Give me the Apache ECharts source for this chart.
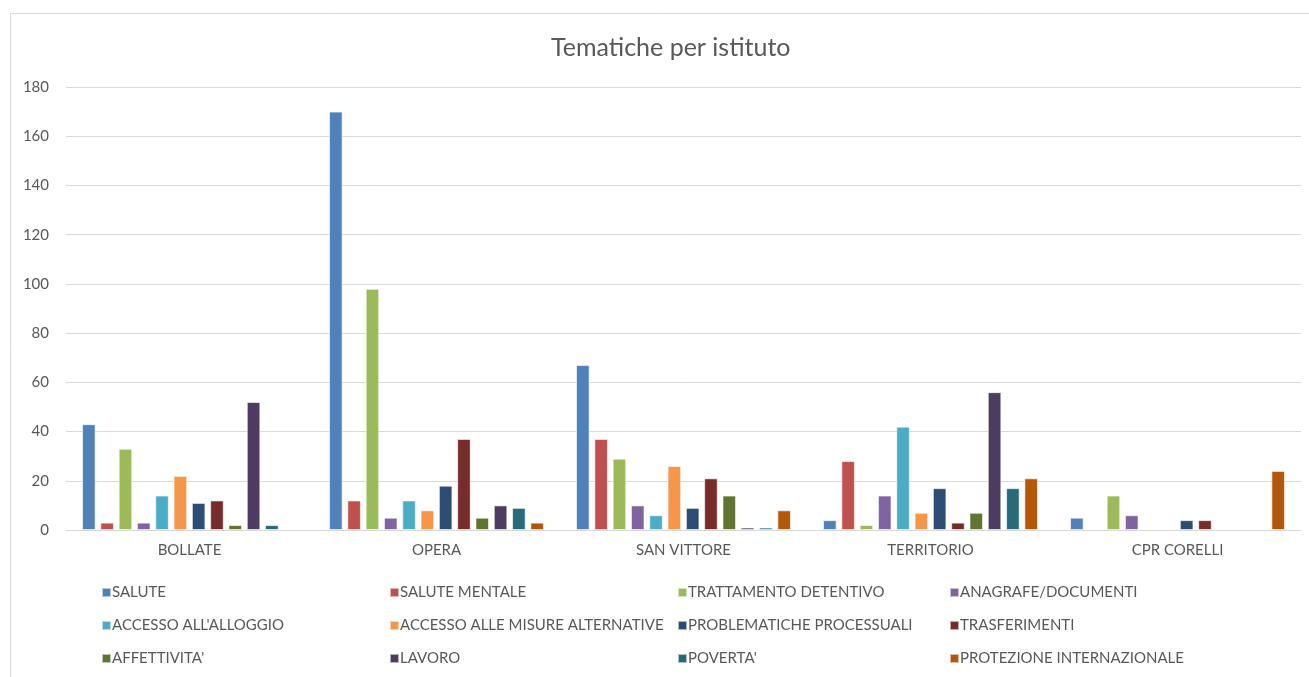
<!DOCTYPE html>
<html>
<head>
<meta charset="utf-8">
<script src="https://cdn.jsdelivr.net/npm/echarts@6/dist/echarts.min.js"></script>
<style>
html, body { margin: 0; padding: 0; background: #fff; }
#chart { width: 1309px; height: 677px; }
</style>
</head>
<body>
<div id="chart"></div>
<script>
const istituti = ['BOLLATE', 'OPERA', 'SAN VITTORE', 'TERRITORIO', 'CPR CORELLI'];
const tematiche = [
    'SALUTE', 'SALUTE MENTALE', 'TRATTAMENTO DETENTIVO', 'ANAGRAFE/DOCUMENTI',
    "ACCESSO ALL'ALLOGGIO", 'ACCESSO ALLE MISURE ALTERNATIVE', 'PROBLEMATICHE PROCESSUALI', 'TRASFERIMENTI',
    "AFFETTIVITA'", 'LAVORO', "POVERTA'", 'PROTEZIONE INTERNAZIONALE'
];
const colori = ['#4F81BD', '#C0504D', '#9BBB59', '#8064A2', '#4BACC6', '#F79646',
    '#2C4D75', '#772C2A', '#5F7530', '#4D3B62', '#276A7C', '#B65708'];

// one array per tematica, values for BOLLATE, OPERA, SAN VITTORE, TERRITORIO, CPR CORELLI
const salute = [43, 170, 67, 4, 5];
const saluteMentale = [3, 12, 37, 28, null];
const trattamento = [33, 98, 29, 2, 14];
const anagrafe = [3, 5, 10, 14, 6];
const alloggio = [14, 12, 6, 42, null];
const misure = [22, 8, 26, 7, null];
const processuali = [11, 18, 9, 17, 4];
const trasferimenti = [12, 37, 21, 3, 4];
const affettivita = [2, 5, 14, 7, null];
const lavoro = [52, 10, 1, 56, null];
const poverta = [2, 9, 1, 17, null];
const protezione = [null, 3, 8, 21, 24];

const valori = [salute, saluteMentale, trattamento, anagrafe, alloggio, misure,
    processuali, trasferimenti, affettivita, lavoro, poverta, protezione];

const yMax = 180;
const yStep = 20;

const chart = echarts.init(document.getElementById('chart'));
const font = 'Lato, "Open Sans", sans-serif';
const grigio = '#595959';

// legend laid out in 4 columns of 3 rows, like the original
const colLeft = [96, 384, 672, 944];
const legends = colLeft.map((left, c) => ({
    orient: 'vertical',
    left: left,
    top: 580,
    itemGap: 18,
    itemWidth: 9,
    itemHeight: 9,
    icon: 'rect',
    textStyle: { color: grigio, fontSize: 15, fontFamily: font, padding: [0, 0, 0, -4] },
    data: [tematiche[c], tematiche[c + 4], tematiche[c + 8]]
}));

const option = {
    animation: false,
    color: colori,
    title: {
        text: 'Tematiche per istituto',
        left: 546,
        top: 30,
        textStyle: { color: grigio, fontSize: 25, fontWeight: 'normal', fontFamily: font }
    },
    graphic: [{
        type: 'rect',
        shape: { x: 10.5, y: 13.5, width: 1320, height: 700 },
        style: { fill: 'none', stroke: '#d9d9d9', lineWidth: 1 },
        silent: true
    }],
    legend: legends,
    grid: { left: 66, right: 8, top: 87, bottom: 147 },
    xAxis: {
        type: 'category',
        data: istituti,
        axisLine: { lineStyle: { color: '#d9d9d9' } },
        axisTick: { show: false },
        axisLabel: { color: grigio, fontSize: 15, fontFamily: font, margin: 13 }
    },
    yAxis: {
        type: 'value',
        min: 0,
        max: yMax,
        interval: yStep,
        axisLine: { show: false },
        axisTick: { show: false },
        axisLabel: { color: grigio, fontSize: 15, fontFamily: font, margin: 17 },
        splitLine: { lineStyle: { color: '#d9d9d9' } }
    },
    series: tematiche.map((nome, i) => ({
        name: nome,
        type: 'bar',
        data: valori[i],
        barGap: '35%',
        barCategoryGap: '13%',
        itemStyle: { borderColor: 'rgba(255,255,255,0.6)', borderWidth: 1 }
    }))
};

chart.setOption(option);
window.addEventListener('resize', () => chart.resize());
</script>
</body>
</html>
